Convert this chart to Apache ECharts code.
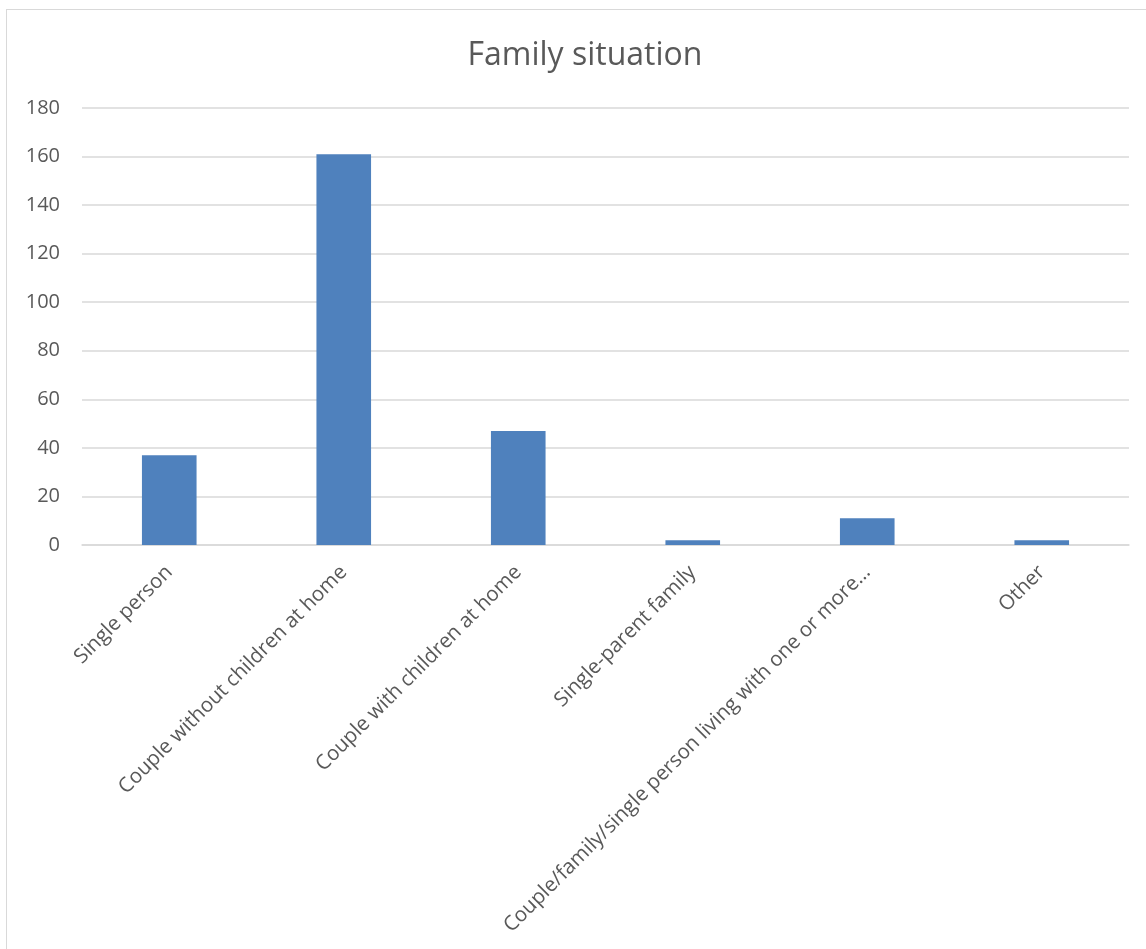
<!DOCTYPE html>
<html><head><meta charset="utf-8">
<script src="https://cdn.jsdelivr.net/npm/echarts@6/dist/echarts.min.js"></script>
<style>html,body{margin:0;padding:0;background:#fff}#c{width:1146px;height:949px}
#frame{position:absolute;left:6px;top:9px;width:1146px;height:960px;border:1px solid #d9d9d9;box-sizing:border-box;pointer-events:none}</style>
</head><body><div id="c"></div><div id="frame"></div>
<script>
const categories = ["Single person","Couple without children at home","Couple with children at home","Single-parent family","Couple/family/single person living with one or more\u2026","Other"];
const values = [37,161,47,2,11,2];
const yTicks = {min:0,max:180,interval:20};
const chart = echarts.init(document.getElementById('c'),null,{renderer:'canvas'});
const font = "'Open Sans', 'Noto Sans', sans-serif";
chart.setOption({
  animation:false,
  title:{text:'Family situation',left:580,top:35,textAlign:'center',textStyle:{fontFamily:font,fontSize:32,fontWeight:'normal',color:'#595959'}},
  grid:{left:82,right:17,top:108,bottom:404,containLabel:false},
  xAxis:{type:'category',data:categories,
    axisLine:{lineStyle:{color:'#d9d9d9',width:1.5}},axisTick:{show:false},
    axisLabel:{rotate:45,interval:0,fontFamily:font,fontSize:20.5,color:'#595959',margin:24}},
  yAxis:{type:'value',min:yTicks.min,max:yTicks.max,interval:yTicks.interval,
    axisLine:{show:false},axisTick:{show:false},
    splitLine:{lineStyle:{color:'#d9d9d9',width:1.5}},
    axisLabel:{fontFamily:font,fontSize:20,color:'#595959',margin:22}},
  series:[{type:'bar',data:values,barWidth:'31.3%',itemStyle:{color:'#4f81bd'}}]
});
</script></body></html>
